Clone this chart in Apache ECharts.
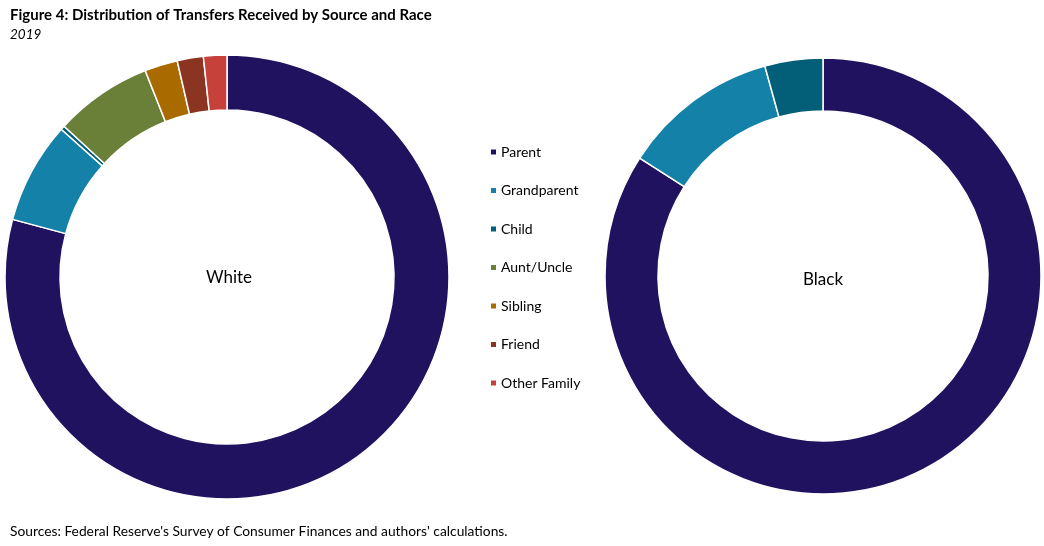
<!DOCTYPE html>
<html>
<head>
<meta charset="utf-8">
<script src="https://cdn.jsdelivr.net/npm/echarts@6/dist/echarts.min.js"></script>
<style>html,body{margin:0;padding:0;background:#fff}#c{width:1044px;height:546px}</style>
</head>
<body>
<div id="c"></div>
<script>
const categories = ['Parent', 'Grandparent', 'Child', 'Aunt/Uncle', 'Sibling', 'Friend', 'Other Family'];
const whiteValues = [79.1, 7.4, 0.3, 7.1, 2.4, 1.9, 1.7];
const blackValues = [84.1, 11.6, 4.3, 0, 0, 0, 0];
const colors = ['#211260', '#1481A8', '#025F77', '#6A7F37', '#A96A00', '#8B3422', '#C7413B'];

const font = 'Lato, "Open Sans", sans-serif';
const chart = echarts.init(document.getElementById('c'), null, {renderer: 'canvas'});

function toData(vals) {
  return categories.map((c, i) => ({name: c, value: vals[i]})).filter(d => d.value > 0);
}

chart.setOption({
  color: colors,
  animation: false,
  title: [
    {text: 'Figure 4: Distribution of Transfers Received by Source and Race', left: 10, top: 8, padding: 0,
     textStyle: {fontFamily: font, fontSize: 15, fontWeight: 'bold', color: '#000'}},
    {text: '2019', left: 10, top: 28, padding: 0,
     textStyle: {fontFamily: font, fontSize: 13.5, fontStyle: 'italic', fontWeight: 'normal', color: '#000'}},
    {text: 'Sources: Federal Reserve\'s Survey of Consumer Finances and authors\' calculations.', left: 10, top: 525, padding: 0,
     textStyle: {fontFamily: font, fontSize: 13.8, fontWeight: 'normal', color: '#000'}},
    {text: 'White', left: 229, top: 269, textAlign: 'center', padding: 0,
     textStyle: {fontFamily: font, fontSize: 17, fontWeight: 'normal', color: '#000'}},
    {text: 'Black', left: 823, top: 271, textAlign: 'center', padding: 0,
     textStyle: {fontFamily: font, fontSize: 17, fontWeight: 'normal', color: '#000'}}
  ],
  legend: {
    orient: 'vertical', left: 489, top: 145, padding: 0,
    data: categories, icon: 'rect', itemWidth: 7, itemHeight: 7, itemGap: 24.5,
    selectedMode: false,
    textStyle: {fontFamily: font, fontSize: 14, color: '#000', padding: [0, 0, 0, -1]}
  },
  series: [
    {name: 'White', type: 'pie', center: [227, 277], radius: [167, 222], startAngle: 90, clockwise: true,
     label: {show: false}, labelLine: {show: false}, silent: true,
     itemStyle: {borderColor: '#fff', borderWidth: 1.5},
     data: toData(whiteValues)},
    {name: 'Black', type: 'pie', center: [823, 276], radius: [165, 218], startAngle: 90, clockwise: true,
     label: {show: false}, labelLine: {show: false}, silent: true,
     itemStyle: {borderColor: '#fff', borderWidth: 1.5},
     data: toData(blackValues)}
  ]
});
</script>
</body>
</html>
